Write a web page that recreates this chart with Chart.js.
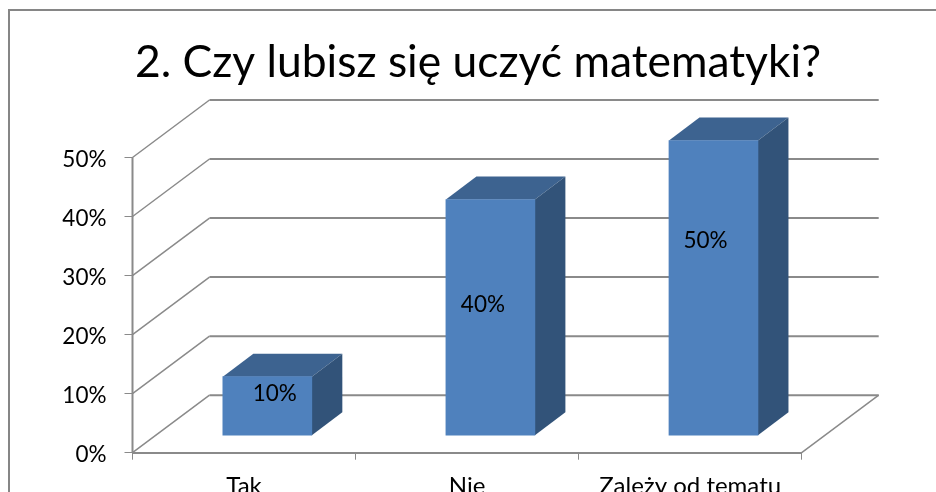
<!DOCTYPE html>
<html>
<head>
<meta charset="utf-8">
<title>2. Czy lubisz się uczyć matematyki?</title>
<script src="https://cdn.jsdelivr.net/npm/chart.js@4"></script>
<style>
  html, body { margin: 0; padding: 0; background: #fff; overflow: hidden; }
  canvas { display: block; }
</style>
</head>
<body>
<canvas id="chart-bar3d" width="936" height="492"></canvas>
<script>
const CATEGORIES = ["Tak", "Nie", "Zależy od tematu"];
const VALUES = [10, 40, 50];
const TICK_VALUES = [0, 10, 20, 30, 40, 50];
const CHART_TITLE = "2. Czy lubisz się uczyć matematyki?";

// Label nudges, the original has them hand placed
const LABEL_SHIFT_X = [7.5, -7.5, -8];
const LABEL_SHIFT_Y = [17.5, 105.5, 100.5];

const FONT = "Lato";
const GRID = "#8a8a8a";
const WALL = { x: 77, y: -57.5 };
const BAR_SHIFT = { x: 23.3, y: -17 };
const BAR_DEPTH = { x: 30.5, y: -23 };

const poly = (ctx, points, fill) => {
  ctx.beginPath();
  points.forEach((p, i) => (i ? ctx.lineTo(p[0], p[1]) : ctx.moveTo(p[0], p[1])));
  ctx.closePath();
  ctx.fillStyle = fill;
  ctx.fill();
};

const frame3d = {
  id: "frame3d",
  beforeDraw(chart) {
    // outer frame, only top and left are inside the crop
    const ctx = chart.ctx;
    ctx.save();
    ctx.strokeStyle = "#868686";
    ctx.lineWidth = 2;
    ctx.beginPath();
    ctx.moveTo(9, chart.height);
    ctx.lineTo(9, 10);
    ctx.lineTo(chart.width, 10);
    ctx.stroke();
    ctx.restore();
  },
  beforeDatasetsDraw(chart) {
    const { ctx, scales } = chart;
    const left = scales.x.left;
    const right = scales.x.right;
    ctx.save();
    ctx.strokeStyle = GRID;
    TICK_VALUES.forEach((v) => {
      const py = scales.y.getPixelForValue(v);
      ctx.lineWidth = 1.5;
      ctx.beginPath();
      ctx.moveTo(left, py);
      ctx.lineTo(left + WALL.x, py + WALL.y);
      ctx.stroke();
      ctx.lineWidth = 2;
      ctx.beginPath();
      ctx.moveTo(left + WALL.x, py + WALL.y);
      ctx.lineTo(right + WALL.x, py + WALL.y);
      ctx.stroke();
    });
    // right edge of the floor
    const y0 = scales.y.getPixelForValue(0);
    ctx.lineWidth = 1.5;
    ctx.beginPath();
    ctx.moveTo(right, y0);
    ctx.lineTo(right + WALL.x, y0 + WALL.y);
    ctx.stroke();
    // value axis line
    ctx.lineWidth = 2;
    ctx.beginPath();
    ctx.moveTo(left, scales.y.getPixelForValue(50));
    ctx.lineTo(left, y0);
    ctx.stroke();
    ctx.restore();

    // y tick labels sit a bit under their tick in the original
    ctx.save();
    ctx.fillStyle = "#000";
    ctx.font = "22.5px " + FONT;
    ctx.textAlign = "right";
    ctx.textBaseline = "middle";
    TICK_VALUES.forEach((v) => {
      ctx.fillText(v + "%", left - 26, scales.y.getPixelForValue(v) + 2);
    });
    ctx.restore();

    // bars stand in the middle of the floor
    ctx.save();
    ctx.translate(BAR_SHIFT.x, BAR_SHIFT.y);
    const bars = chart.getDatasetMeta(0).data;
    bars.forEach((bar) => {
      const l = bar.x - bar.width / 2;
      const r = bar.x + bar.width / 2;
      const t = bar.y;
      const b = bar.base;
      const dx = BAR_DEPTH.x;
      const dy = BAR_DEPTH.y;
      poly(ctx, [[l, t], [r, t], [r + dx, t + dy], [l + dx, t + dy]], "#3d6390");
      poly(ctx, [[r, t], [r + dx, t + dy], [r + dx, b + dy], [r, b]], "#325379");
    });
  },
  afterDatasetsDraw(chart) {
    const ctx = chart.ctx;
    ctx.restore();
    ctx.save();
    ctx.fillStyle = "#000";
    ctx.font = "22.5px " + FONT;
    ctx.textAlign = "center";
    ctx.textBaseline = "middle";
    chart.getDatasetMeta(0).data.forEach((bar, i) => {
      ctx.fillText(
        VALUES[i] + "%",
        bar.x + BAR_SHIFT.x + LABEL_SHIFT_X[i],
        bar.y + BAR_SHIFT.y + LABEL_SHIFT_Y[i]
      );
    });
    ctx.restore();
  },
};

new Chart(document.getElementById("chart-bar3d"), {
  type: "bar",
  data: {
    labels: CATEGORIES,
    datasets: [
      {
        data: VALUES,
        backgroundColor: "#4f81bd",
        borderWidth: 0,
        barThickness: 89,
        clip: false,
      },
    ],
  },
  options: {
    responsive: false,
    animation: false,
    layout: { padding: { left: 20, top: 0, right: 0, bottom: 0 } },
    plugins: {
      legend: { display: false },
      tooltip: { enabled: false },
      title: {
        display: true,
        text: CHART_TITLE,
        color: "#000",
        font: { family: FONT, size: 44.4, weight: "normal", lineHeight: 1.2 },
        padding: { top: 36, bottom: 68.2 },
      },
    },
    scales: {
      x: {
        border: { display: true, color: GRID, width: 2 },
        grid: {
          offset: true,
          drawOnChartArea: false,
          drawTicks: true,
          tickLength: 7,
          color: GRID,
        },
        ticks: {
          color: "#000",
          font: { family: FONT, size: 24 },
          padding: 12,
          maxRotation: 0,
          autoSkip: false,
        },
        afterFit: (scale) => {
          scale.height = 39.3;
        },
      },
      y: {
        min: 0,
        max: 50,
        border: { display: false },
        grid: {
          drawOnChartArea: false,
          drawTicks: true,
          tickLength: 8,
          color: GRID,
        },
        ticks: {
          stepSize: 10,
          // labels are drawn in the plugin, 2px lower than the scale would
          color: "transparent",
          font: { family: FONT, size: 22.5 },
          padding: 17,
          callback: (v) => v + "%",
        },
        afterFit: (scale) => {
          scale.width = 112.5;
        },
      },
      spacer: {
        position: "right",
        display: true,
        border: { display: false },
        grid: { display: false },
        ticks: { display: false },
        afterFit: (scale) => {
          scale.width = 134.3;
        },
      },
    },
  },
  plugins: [frame3d],
});
</script>
</body>
</html>
